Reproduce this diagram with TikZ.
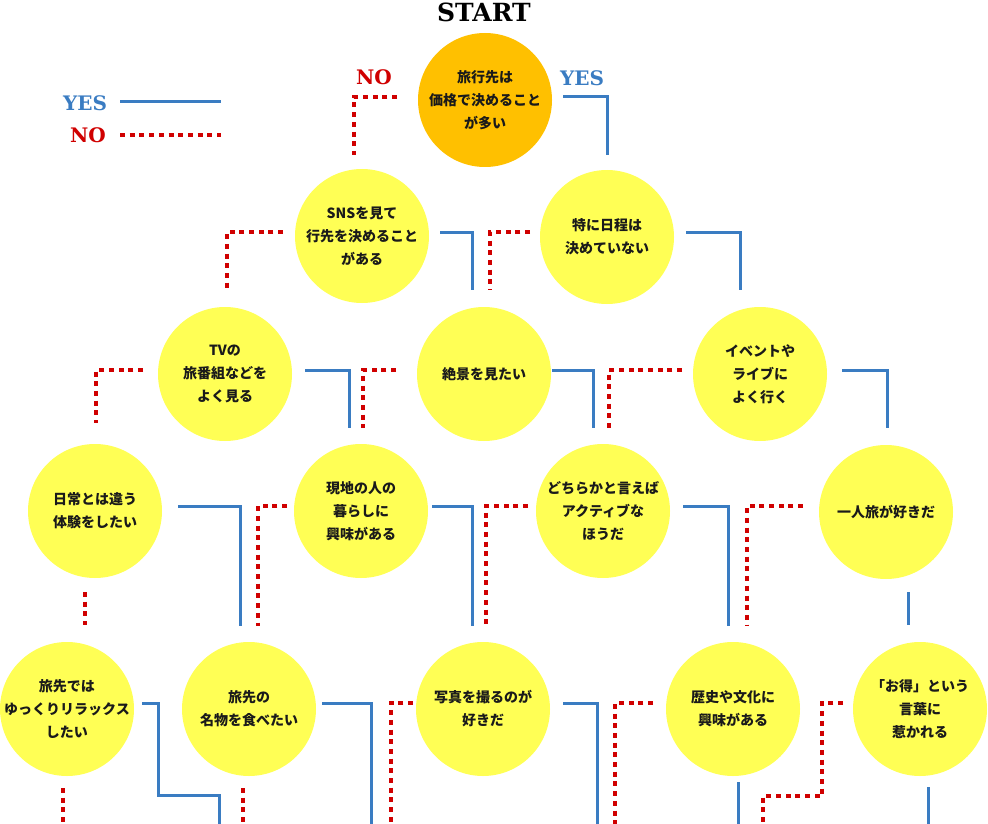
\documentclass[tikz,border=0pt]{standalone}
\usepackage{fontspec}
\newfontfamily\jp{Noto Sans CJK JP}
\newfontfamily\slab{DejaVu Serif}
\usetikzlibrary{calc}
\definecolor{ybl}{HTML}{3A7CC2}
\definecolor{nrd}{HTML}{D00000}
\definecolor{cyel}{HTML}{FFFF55}
\definecolor{corg}{HTML}{FFC000}
\definecolor{txt}{HTML}{1A1A1A}
\begin{document}
\begin{tikzpicture}[x=1pt,y=-1pt,
  q/.style={circle,fill=cyel,minimum size=134pt,inner sep=0pt},
  qt/.style={align=center,text=txt,inner sep=0pt,font=\jp\bfseries\fontsize{14}{23}\selectfont},
  yesl/.style={draw=ybl,line width=3pt},
  nol/.style={draw=nrd,line width=3.2pt,dash pattern=on 5pt off 4.7pt},
  lab/.style={font=\slab\bfseries\fontsize{20}{20}\selectfont}
]
\useasboundingbox (0,0) rectangle (988,824);

% title and labels
\node[lab,font=\slab\bfseries\fontsize{25}{25}\selectfont,text=black] (title) at (484,12) {START};
\node[lab,text=ybl] (ly) at (85,103) {YES};
\node[lab,text=nrd] (ln) at (88,135) {NO};
\coordinate (ly1) at (120,102); \coordinate (ly2) at (221,102);
\coordinate (ln1) at (120,135); \coordinate (ln2) at (221,135);
\draw[yesl] (ly1) -- (ly2);
\draw[nol] (ln1) -- (ln2);
\node[lab,text=nrd] (sno) at (374,77) {NO};
\node[lab,text=ybl] (syes) at (582,78) {YES};

% nodes
\node[q,fill=corg,label={[qt]center:{旅行先は\\価格で決めること\\が多い}}] (start) at (485,100) {};
\node[q,label={[qt]center:{SNSを見て\\行先を決めること\\がある}}] (sns) at (362,236) {};
\node[q,label={[qt]center:{特に日程は\\決めていない}}] (tok) at (607,237) {};
\node[q,label={[qt]center:{TVの\\旅番組などを\\よく見る}}] (tv) at (225,374) {};
\node[q,label={[qt]center:{絶景を見たい}}] (zek) at (484,374) {};
\node[q,label={[qt]center:{イベントや\\ライブに\\よく行く}}] (evt) at (760,374) {};
\node[q,label={[qt]center:{日常とは違う\\体験をしたい}}] (nic) at (95,511) {};
\node[q,label={[qt]center:{現地の人の\\暮らしに\\興味がある}}] (gen) at (361,511) {};
\node[q,label={[qt]center:{どちらかと言えば\\アクティブな\\ほうだ}}] (doc) at (603,511) {};
\node[q,label={[qt]center:{一人旅が好きだ}}] (hit) at (886,512) {};
\node[q,label={[qt]center:{旅先では\\ゆっくりリラックス\\したい}}] (yuk) at (67,709) {};
\node[q,label={[qt]center:{旅先の\\名物を食べたい}}] (mei) at (249,709) {};
\node[q,label={[qt]center:{写真を撮るのが\\好きだ}}] (sha) at (483,709) {};
\node[q,label={[qt]center:{歴史や文化に\\興味がある}}] (rek) at (733,709) {};
\node[q,label={[qt]center:{「お得」という\\言葉に\\惹かれる}}] (otk) at (920,709) {};

% free ends at bottom
\coordinate (b1) at (63,824);
\coordinate (b2) at (219,824);
\coordinate (b3) at (243,824);
\coordinate (b4) at (371,824);
\coordinate (b5) at (391,824);
\coordinate (b6) at (597,824);
\coordinate (b7) at (615,824);
\coordinate (b8) at (738,824);
\coordinate (b9) at (763,824);
\coordinate (b10) at (928,824);

% connectors row 1 -> 2
\draw[nol] ($(start)+(-88,-3)$) -| ($(sns)+(-8,-81)$);
\draw[yesl] ($(start)+(78,-3)$) -| ($(tok)+(0,-82)$);
% row 2 -> 3
\draw[nol] ($(sns)+(-79,-4)$) -| ($(tv)+(2,-86)$);
\draw[yesl] ($(sns)+(78,-4)$) -| ($(zek)+(-12,-84)$);
\draw[nol] ($(tok)+(-77,-5)$) -| ($(zek)+(6,-84)$);
\draw[yesl] ($(tok)+(79,-5)$) -| ($(evt)+(-20,-84)$);
% row 3 -> 4
\draw[nol] ($(tv)+(-82,-4)$) -| ($(nic)+(1,-88)$);
\draw[yesl] ($(tv)+(80,-4)$) -| ($(gen)+(-12,-83)$);
\draw[nol] ($(zek)+(-88,-4)$) -| ($(gen)+(2,-83)$);
\draw[yesl] ($(zek)+(68,-4)$) -| ($(doc)+(-10,-83)$);
\draw[nol] ($(evt)+(-78,-4)$) -| ($(doc)+(6,-83)$);
\draw[yesl] ($(evt)+(82,-4)$) -| ($(hit)+(1,-84)$);
% row 4 -> 5
\draw[nol] ($(nic)+(-10,81)$) -- ($(yuk)+(18,-84)$);
\draw[yesl] ($(nic)+(83,-5)$) -| ($(mei)+(-9,-83)$);
\draw[nol] ($(gen)+(-74,-5)$) -| ($(mei)+(9,-83)$);
\draw[yesl] ($(gen)+(71,-5)$) -| ($(sha)+(-11,-83)$);
\draw[nol] ($(doc)+(-75,-5)$) -| ($(sha)+(3,-83)$);
\draw[yesl] ($(doc)+(80,-5)$) -| ($(rek)+(-5,-83)$);
\draw[nol] ($(hit)+(-83,-6)$) -| ($(rek)+(14,-83)$);
\draw[yesl] ($(hit)+(22,80)$) -- ($(otk)+(-12,-84)$);
% row 5 -> out
\draw[nol] ($(yuk)+(-4,79)$) -- (b1);
\draw[yesl] ($(yuk)+(75,-6)$) -| ($(yuk)+(91,86)$) -| (b2);
\draw[nol] ($(mei)+(-6,79)$) -- (b3);
\draw[yesl] ($(mei)+(73,-6)$) -| (b4);
\draw[nol] ($(sha)+(-70,-6)$) -| (b5);
\draw[yesl] ($(sha)+(80,-6)$) -| (b6);
\draw[nol] ($(rek)+(-80,-6)$) -| (b7);
\draw[yesl] ($(rek)+(5,73)$) -- (b8);
\draw[nol] ($(otk)+(-77,-6)$) -| ($(otk)+(-98,87)$) -| (b9);
\draw[yesl] ($(otk)+(8,78)$) -- (b10);
\end{tikzpicture}
\end{document}
